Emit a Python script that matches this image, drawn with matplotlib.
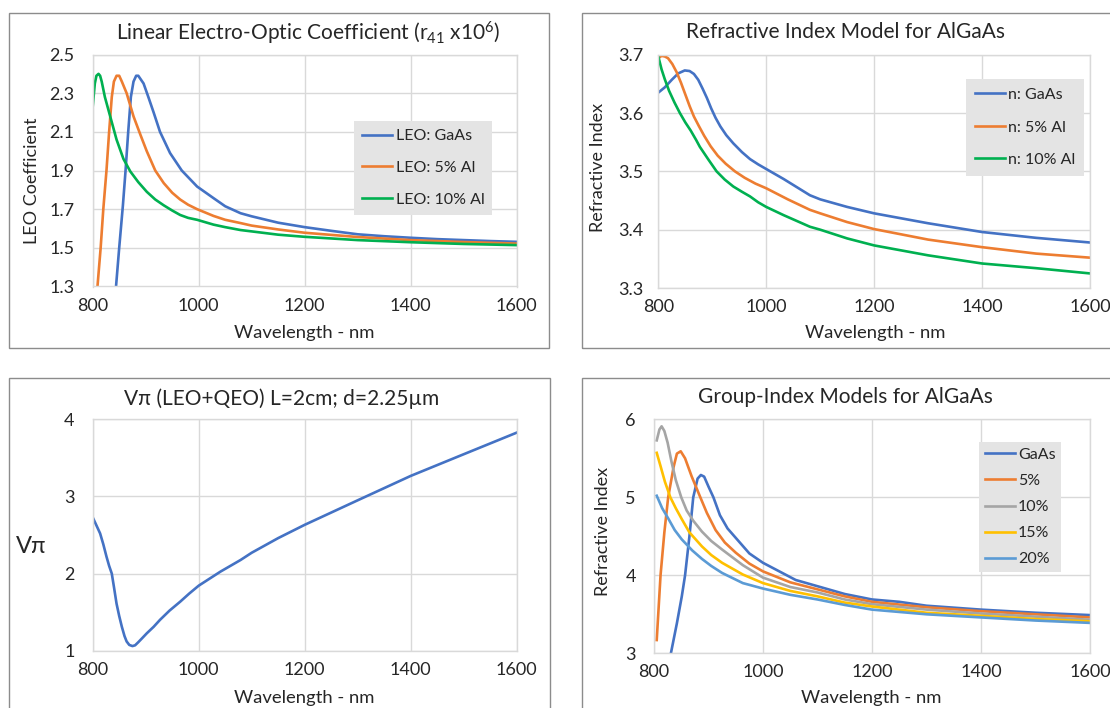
import matplotlib
matplotlib.use("Agg")
import matplotlib.pyplot as plt
from matplotlib.patches import Rectangle

plt.rcParams['font.family'] = ['Lato', 'DejaVu Sans']
plt.rcParams['mathtext.default'] = 'regular'

# ---- LEO coefficient (r41 x1e6) ----
leo_gaas_wl = [838, 844, 850, 857, 862, 867, 872, 877, 882, 886, 891, 896, 905, 915, 927, 946, 968, 997,
               1028, 1050, 1079, 1100, 1150, 1200, 1250, 1300, 1350, 1400, 1450, 1500, 1550, 1600]
leo_gaas = [1.10, 1.30, 1.50, 1.72, 1.90, 2.10, 2.28, 2.36, 2.39, 2.39, 2.37, 2.35, 2.28, 2.20, 2.10, 1.99, 1.90, 1.817,
            1.757, 1.715, 1.679, 1.663, 1.630, 1.607, 1.588, 1.570, 1.560, 1.552, 1.545, 1.540, 1.535, 1.531]
leo_al5_wl = [805, 809, 815, 820, 826, 831, 836, 840, 845, 850, 855, 864, 877, 890, 902, 918, 934, 950, 965, 980, 997,
              1028, 1050, 1079, 1100, 1150, 1200, 1300, 1400, 1500, 1600]
leo_al5 = [1.15, 1.30, 1.50, 1.70, 1.90, 2.10, 2.28, 2.36, 2.39, 2.39, 2.36, 2.30, 2.18, 2.085, 2.00, 1.90, 1.835, 1.785,
           1.75, 1.723, 1.70, 1.665, 1.645, 1.628, 1.615, 1.595, 1.578, 1.556, 1.540, 1.530, 1.522]
leo_al10_wl = [800, 804, 807, 811, 814, 817, 823, 833, 845, 858, 871, 886, 902, 918, 934, 950, 965, 980, 997, 1028,
               1050, 1079, 1100, 1150, 1200, 1300, 1400, 1500, 1600]
leo_al10 = [2.23, 2.35, 2.39, 2.40, 2.39, 2.36, 2.28, 2.18, 2.06, 1.96, 1.895, 1.84, 1.79, 1.75, 1.72, 1.693, 1.67, 1.655,
            1.645, 1.62, 1.607, 1.592, 1.585, 1.568, 1.557, 1.540, 1.529, 1.520, 1.514]

# ---- Refractive index ----
n_gaas_wl = [800, 812, 825, 837, 849, 858, 866, 874, 882, 890, 898, 906, 915, 926, 939, 955, 970, 985, 1000, 1032,
             1081, 1100, 1150, 1200, 1300, 1400, 1500, 1600]
n_gaas = [3.635, 3.644, 3.657, 3.668, 3.673, 3.672, 3.667, 3.657, 3.642, 3.626, 3.608, 3.592, 3.577, 3.562, 3.548,
          3.533, 3.521, 3.512, 3.504, 3.487, 3.459, 3.452, 3.439, 3.428, 3.411, 3.396, 3.386, 3.378]
n_al5_wl = [800, 806, 812, 818, 826, 834, 842, 850, 858, 866, 875, 885, 897, 910, 925, 942, 960, 980, 1000, 1040,
            1081, 1100, 1150, 1200, 1300, 1400, 1500, 1600]
n_al5 = [3.694, 3.698, 3.697, 3.694, 3.684, 3.670, 3.652, 3.632, 3.612, 3.594, 3.578, 3.561, 3.543, 3.527, 3.513, 3.500,
         3.489, 3.479, 3.471, 3.452, 3.434, 3.428, 3.413, 3.401, 3.383, 3.370, 3.359, 3.352]
n_al10_wl = [800, 806, 812, 820, 830, 840, 850, 860, 870, 877, 893, 908, 923, 939, 955, 970, 985, 1000, 1032, 1081,
             1100, 1150, 1200, 1300, 1400, 1500, 1600]
n_al10 = [3.697, 3.675, 3.658, 3.638, 3.618, 3.600, 3.584, 3.570, 3.554, 3.542, 3.520, 3.500, 3.486, 3.474, 3.465,
          3.457, 3.447, 3.439, 3.425, 3.405, 3.400, 3.385, 3.373, 3.356, 3.342, 3.334, 3.325]

# ---- V-pi ----
vpi_wl = [800, 806, 814, 820, 826, 831, 836, 840, 845, 850, 855, 860, 864, 869, 875, 880, 886, 893, 902, 915, 927,
          945, 965, 982, 1000, 1041, 1079, 1100, 1150, 1200, 1300, 1400, 1500, 1600]
vpi = [2.729, 2.64, 2.52, 2.38, 2.22, 2.10, 2.00, 1.83, 1.61, 1.45, 1.31, 1.19, 1.12, 1.075, 1.06, 1.07, 1.11, 1.16,
       1.225, 1.31, 1.40, 1.52, 1.635, 1.74, 1.843, 2.025, 2.176, 2.27, 2.46, 2.632, 2.95, 3.266, 3.547, 3.827]

# ---- Group index ----
ng_gaas_wl = [826, 831, 842, 851, 857, 865, 872, 880, 886, 892, 900, 909, 921, 935, 950, 975, 1000, 1030, 1060,
              1080, 1100, 1150, 1200, 1250, 1300, 1400, 1500, 1600]
ng_gaas = [2.80, 3.00, 3.385, 3.73, 4.00, 4.50, 5.00, 5.24, 5.286, 5.265, 5.137, 5.00, 4.77, 4.60, 4.48, 4.28, 4.16, 4.05, 3.94,
           3.90, 3.86, 3.76, 3.69, 3.66, 3.61, 3.56, 3.52, 3.49]
ng_al5_wl = [805, 812, 819, 826, 836, 842, 849, 857, 869, 885, 897, 913, 930, 950, 975, 1000, 1050, 1100,
             1150, 1200, 1300, 1400, 1500, 1600]
ng_al5 = [3.17, 4.00, 4.55, 5.00, 5.39, 5.56, 5.59, 5.50, 5.27, 5.00, 4.80, 4.58, 4.42, 4.29, 4.15, 4.05, 3.91, 3.82,
          3.73, 3.66, 3.59, 3.54, 3.50, 3.46]
ng_al10_wl = [805, 810, 814, 819, 825, 832, 840, 850, 860, 872, 888, 905, 925, 963, 1000, 1050, 1100, 1150,
              1200, 1300, 1400, 1500, 1600]
ng_al10 = [5.73, 5.87, 5.91, 5.85, 5.70, 5.46, 5.22, 5.00, 4.83, 4.70, 4.56, 4.44, 4.33, 4.13, 3.97, 3.85, 3.78, 3.69,
           3.63, 3.56, 3.51, 3.47, 3.43]
ng_al15_wl = [805, 812, 820, 830, 840, 851, 865, 888, 905, 925, 963, 1000, 1050, 1100, 1150, 1200, 1300, 1400, 1500, 1600]
ng_al15 = [5.57, 5.40, 5.20, 5.00, 4.86, 4.72, 4.55, 4.37, 4.26, 4.16, 4.01, 3.90, 3.80, 3.73, 3.65, 3.60, 3.52, 3.48,
           3.44, 3.41]
ng_al20_wl = [805, 815, 826, 838, 851, 870, 888, 905, 925, 963, 1000, 1050, 1100, 1150, 1200, 1300, 1400, 1500, 1600]
ng_al20 = [5.02, 4.86, 4.73, 4.58, 4.46, 4.32, 4.21, 4.12, 4.03, 3.90, 3.83, 3.75, 3.69, 3.62, 3.56, 3.50, 3.46, 3.42, 3.39]

BLUE = "#4472C4"
ORANGE = "#ED7D31"
GREEN = "#00B050"
GRAY = "#A5A5A5"
YELLOW = "#FFC000"
LBLUE = "#5B9BD5"
TXT = "#262626"

W, H = 1110, 708
fig = plt.figure(figsize=(W / 100, H / 100), dpi=100)


def px_box(x0, y0, x1, y1):
    return [x0 / W, 1 - y1 / H, (x1 - x0) / W, (y1 - y0) / H]


def px_pt(x, y):
    return x / W, 1 - y / H


# chart frames
for (x0, y0, x1, y1) in [(9, 13, 549, 348), (582, 13, 1125, 348), (9, 378, 550, 725), (582, 378, 1125, 725)]:
    fig.patches.append(Rectangle(px_pt(x0, y1), (x1 - x0) / W, (y1 - y0) / H, transform=fig.transFigure,
                                 fill=False, edgecolor="#8c8c8c", linewidth=1.0))


def style_axes(ax, ylim, yticks, yfmt, ypad):
    ax.set_xlim(800, 1600)
    ax.set_xticks([800, 1000, 1200, 1400, 1600])
    ax.set_ylim(*ylim)
    ax.set_yticks(yticks)
    ax.set_yticklabels([yfmt.format(v) for v in yticks])
    ax.grid(True, color="#d9d9d9", linewidth=1.0)
    ax.set_axisbelow(True)
    for s in ax.spines.values():
        s.set_color("#d9d9d9")
        s.set_linewidth(1.0)
    ax.tick_params(axis="both", length=0, labelsize=13, colors=TXT)
    ax.tick_params(axis="x", pad=8)
    ax.tick_params(axis="y", pad=ypad)


def add_legend(ax, x0, y0, spacing, bpad):
    leg = ax.legend(loc="upper left", bbox_to_anchor=px_pt(x0, y0), bbox_transform=fig.transFigure,
                    fontsize=11.5, frameon=True, facecolor="#e4e4e4", edgecolor="none", framealpha=1,
                    fancybox=False, handlelength=1.9, handletextpad=0.2, labelspacing=spacing,
                    borderpad=bpad, borderaxespad=0)
    for t in leg.get_texts():
        t.set_color(TXT)
    return leg


LW = 1.9

# panel 1
ax1 = fig.add_axes(px_box(92.7, 54.5, 516.7, 286.5))
ax1.plot(leo_gaas_wl, leo_gaas, color=BLUE, lw=LW, label="LEO: GaAs")
ax1.plot(leo_al5_wl, leo_al5, color=ORANGE, lw=LW, label="LEO: 5% Al")
ax1.plot(leo_al10_wl, leo_al10, color=GREEN, lw=LW, label="LEO: 10% Al")
style_axes(ax1, (1.3, 2.5), [1.3, 1.5, 1.7, 1.9, 2.1, 2.3, 2.5], "{:.1f}", 13)
add_legend(ax1, 354, 121, 1.1, 0.5)

# panel 2
ax2 = fig.add_axes(px_box(658.3, 54.7, 1090, 288))
ax2.plot(n_gaas_wl, n_gaas, color=BLUE, lw=LW, label="n: GaAs")
ax2.plot(n_al5_wl, n_al5, color=ORANGE, lw=LW, label="n: 5% Al")
ax2.plot(n_al10_wl, n_al10, color=GREEN, lw=LW, label="n: 10% Al")
style_axes(ax2, (3.3, 3.7), [3.3, 3.4, 3.5, 3.6, 3.7], "{:.1f}", 11)
add_legend(ax2, 966, 79, 1.15, 0.55)

# panel 3
ax3 = fig.add_axes(px_box(92.7, 419.3, 516.7, 650.7))
ax3.plot(vpi_wl, vpi, color=BLUE, lw=LW)
style_axes(ax3, (1, 4), [1, 2, 3, 4], "{:.0f}", 13)

# panel 4
ax4 = fig.add_axes(px_box(654, 419.3, 1090, 653.3))
ax4.plot(ng_gaas_wl, ng_gaas, color=BLUE, lw=LW, label="GaAs")
ax4.plot(ng_al5_wl, ng_al5, color=ORANGE, lw=LW, label="5%")
ax4.plot(ng_al10_wl, ng_al10, color=GRAY, lw=LW, label="10%")
ax4.plot(ng_al15_wl, ng_al15, color=YELLOW, lw=LW, label="15%")
ax4.plot(ng_al20_wl, ng_al20, color=LBLUE, lw=LW, label="20%")
style_axes(ax4, (3, 6), [3, 4, 5, 6], "{:.0f}", 13)
add_legend(ax4, 979, 442, 0.75, 0.35)

# titles
fig.text(*px_pt(308.5, 33), "Linear Electro-Optic Coefficient (r$_{41}$ x10$^{6}$)", ha="center", va="center",
         fontsize=15, color=TXT)
fig.text(*px_pt(846, 32), "Refractive Index Model for AlGaAs", ha="center", va="center", fontsize=15, color=TXT)
fig.text(*px_pt(282, 399), "V\u03c0 (LEO+QEO) L=2cm; d=2.25\u00b5m", ha="center", va="center", fontsize=15, color=TXT)
fig.text(*px_pt(845, 397), "Group-Index Models for AlGaAs", ha="center", va="center", fontsize=15, color=TXT)

# axis labels
for (x, y) in [(304.6, 333), (875, 333), (304.6, 698), (871.6, 698)]:
    fig.text(*px_pt(x, y), "Wavelength - nm", ha="center", va="center", fontsize=13.3, color=TXT)
fig.text(*px_pt(32, 181), "LEO Coefficient", ha="center", va="center", rotation=90, fontsize=13, color=TXT)
fig.text(*px_pt(598, 167.5), "Refractive Index", ha="center", va="center", rotation=90, fontsize=13, color=TXT)
fig.text(*px_pt(603.4, 531), "Refractive Index", ha="center", va="center", rotation=90, fontsize=13, color=TXT)
fig.text(*px_pt(31, 546.7), "V\u03c0", ha="center", va="center", fontsize=17, color=TXT)

fig.savefig("out.png", dpi=100)
